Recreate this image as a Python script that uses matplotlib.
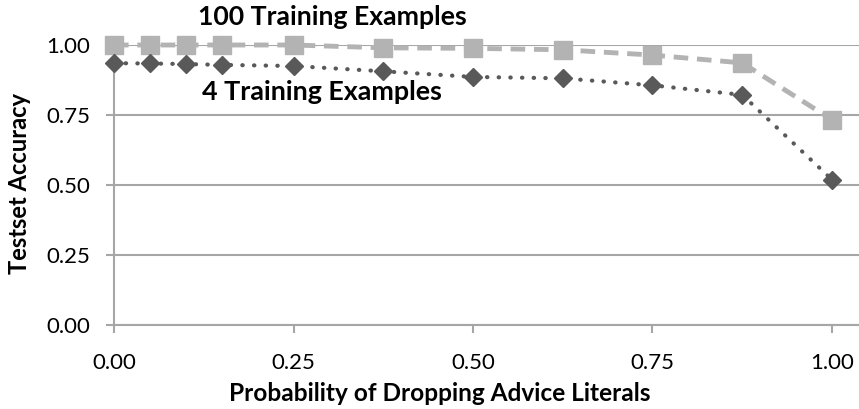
import numpy as np
import matplotlib.pyplot as plt

plt.rcParams['font.family'] = ['Lato', 'DejaVu Sans']

drop_prob = [0.0, 0.05, 0.1, 0.15, 0.25, 0.375, 0.5, 0.625, 0.75, 0.875, 1.0]
acc_100 = [1.0, 1.0, 1.0, 1.0, 1.0, 0.99, 0.988, 0.983, 0.964, 0.936, 0.733]
acc_4 = [0.935, 0.934, 0.932, 0.929, 0.925, 0.906, 0.886, 0.881, 0.856, 0.822, 0.519]
ticks = [0.0, 0.25, 0.5, 0.75, 1.0]

W, H = 859, 409
fig = plt.figure(figsize=(W / 100, H / 100), dpi=100)
x0, x1 = 114, 859
y0, y1 = 325, 45
ax = fig.add_axes([x0 / W, (H - y0) / H, (x1 - x0) / W, (y0 - y1) / H])

grid_c = '#a6a6a6'
ax.plot(drop_prob, acc_100, color='#b3b3b3', ls=(0, (3, 1.8)), lw=3.5,
        marker='s', ms=13.5, mec='#b3b3b3', mfc='#b3b3b3', clip_on=False, zorder=3)
ax.plot(drop_prob, acc_4, color='#595959', ls=(0, (0.1, 2.7)), lw=3.0,
        dash_capstyle='round', marker='D', ms=9.5, mec='#595959', mfc='#595959',
        clip_on=False, zorder=4)

ax.set_xlim(0, (x1 - x0) / 718)
ax.set_ylim(0, 1)
ax.set_xticks(ticks)
ax.set_yticks(ticks)
ax.set_xticklabels([f'{t:.2f}' for t in ticks], fontsize=16)
ax.set_yticklabels([f'{t:.2f}' for t in ticks], fontsize=16)
ax.yaxis.grid(True, color=grid_c, lw=1.5)
ax.set_axisbelow(True)
for s in ['top', 'right']:
    ax.spines[s].set_visible(False)
for s in ['left', 'bottom']:
    ax.spines[s].set_color(grid_c)
    ax.spines[s].set_linewidth(1.5)
ax.tick_params(axis='both', color=grid_c, width=1.5, length=6, direction='out')
ax.tick_params(axis='x', pad=14)
ax.tick_params(axis='y', pad=11)

xl = ax.set_xlabel('Probability of Dropping Advice Literals', fontsize=17, fontweight='bold')
ax.xaxis.set_label_coords((440 - x0) / (x1 - x0), -0.205)
yl = ax.set_ylabel('Testset Accuracy', fontsize=17, fontweight='bold', va='center')
ax.yaxis.set_label_coords((20 - x0) / (x1 - x0), 0.504)

t100 = ax.text(0.3036, 1.071, '100 Training Examples', fontsize=17, fontweight='bold',
               ha='center', va='baseline')
t4 = ax.text(0.290, 0.804, '4 Training Examples', fontsize=17, fontweight='bold',
             ha='center', va='baseline')

# scale the bold texts to the widths measured on the reference
r = fig.canvas.get_renderer()
for t, target, horiz in [(xl, 422, True), (yl, 182, False), (t100, 270, True), (t4, 241, True)]:
    bb = t.get_window_extent(r)
    size = bb.width if horiz else bb.height
    t.set_fontsize(t.get_fontsize() * target / size)

fig.savefig('out.png', dpi=100)
